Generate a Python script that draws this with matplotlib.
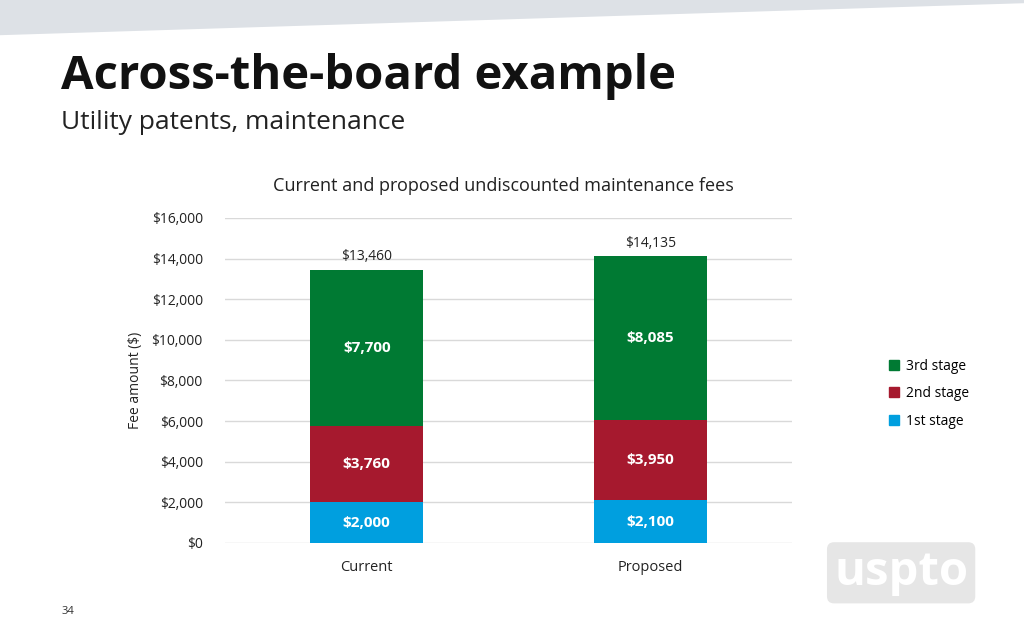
import matplotlib
matplotlib.use("Agg")
import matplotlib.pyplot as plt
from matplotlib.patches import Polygon, Patch

categories = ["Current", "Proposed"]
stage1 = [2000, 2100]
stage2 = [3760, 3950]
stage3 = [7700, 8085]
totals = [13460, 14135]
yticks = [0, 2000, 4000, 6000, 8000, 10000, 12000, 14000, 16000]

plt.rcParams["font.family"] = "Open Sans"
fig = plt.figure(figsize=(10.24, 6.4), dpi=100)
fig.patch.set_facecolor("white")

fig.patches.append(Polygon([(0, 1), (1, 1), (1, 0.995), (0, 0.945)], closed=True,
                           transform=fig.transFigure, facecolor="#dde1e6", edgecolor="none"))

fig.text(0.06, 0.88, "Across-the-board example", fontsize=34, fontweight="bold", va="center", color="#111111")
fig.text(0.06, 0.808, "Utility patents, maintenance", fontsize=19, va="center", color="#222222")
fig.text(0.492, 0.71, "Current and proposed undiscounted maintenance fees", fontsize=13, ha="center", va="center", color="#222222")
fig.text(0.06, 0.045, "34", fontsize=8, va="center", color="#333333")
fig.text(0.88, 0.105, "uspto", fontsize=34, fontweight="bold", color="white", ha="center", va="center",
         bbox=dict(boxstyle="round,pad=0.15", facecolor="#e6e6e6", edgecolor="none"))

ax = fig.add_axes([0.2197, 0.1516, 0.5537, 0.5078])
x = list(range(len(categories)))
w = 0.4
c1, c2, c3 = "#009FDF", "#A6192E", "#007A33"
b2 = [a for a in stage1]
b3 = [a + b for a, b in zip(stage1, stage2)]
ax.bar(x, stage1, w, color=c1, zorder=3)
ax.bar(x, stage2, w, bottom=b2, color=c2, zorder=3)
ax.bar(x, stage3, w, bottom=b3, color=c3, zorder=3)
for i in x:
    ax.text(i, stage1[i] / 2, f"${stage1[i]:,}", ha="center", va="center", color="white", fontsize=11, fontweight="bold", zorder=4)
    ax.text(i, b2[i] + stage2[i] / 2, f"${stage2[i]:,}", ha="center", va="center", color="white", fontsize=11, fontweight="bold", zorder=4)
    ax.text(i, b3[i] + stage3[i] / 2, f"${stage3[i]:,}", ha="center", va="center", color="white", fontsize=11, fontweight="bold", zorder=4)
    ax.text(i, totals[i] + 250, f"${totals[i]:,}", ha="center", va="bottom", color="#222222", fontsize=10, zorder=4)

ax.set_xlim(-0.5, 1.5)
ax.set_ylim(0, 16000)
ax.set_yticks(yticks)
ax.set_yticklabels([f"${v:,}" for v in yticks], fontsize=10, color="#222222")
ax.set_xticks(x)
ax.set_xticklabels(categories, fontsize=10.5, color="#222222")
ax.tick_params(length=0, pad=16)
ax.tick_params(axis="x", pad=12)
ax.grid(axis="y", color="#d9d9d9", linewidth=1, zorder=0)
for s in ax.spines.values():
    s.set_visible(False)
ax.set_ylabel("Fee amount ($)", fontsize=10, color="#222222", labelpad=6)

handles = [Patch(color=c3, label="3rd stage"), Patch(color=c2, label="2nd stage"), Patch(color=c1, label="1st stage")]
fig.legend(handles=handles, loc="center left", bbox_to_anchor=(0.856, 0.385), frameon=False,
           fontsize=10, handlelength=0.7, handleheight=0.7, handletextpad=0.5, labelspacing=0.9)

fig.savefig("out.png", dpi=100)
